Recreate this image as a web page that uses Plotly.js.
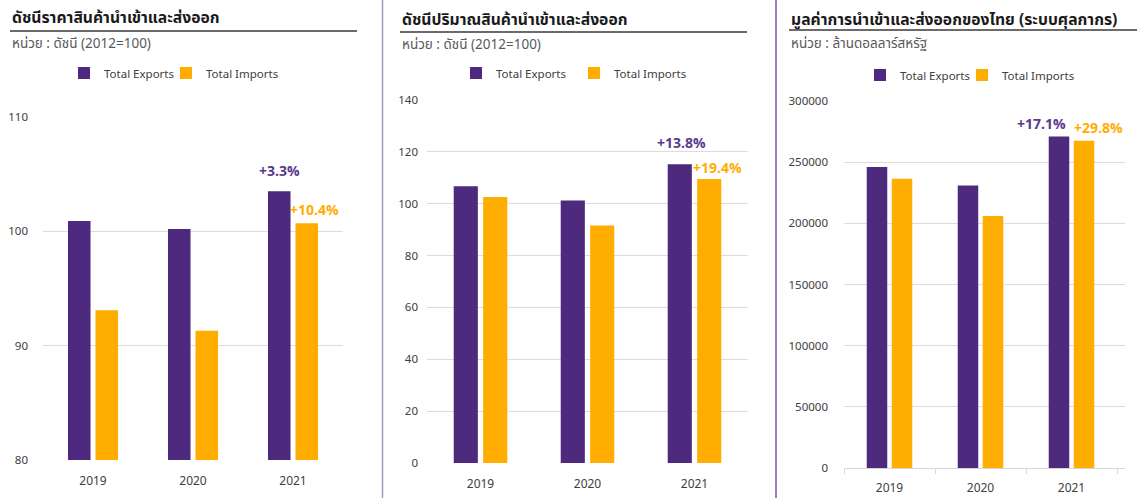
<!DOCTYPE html>
<html>
<head>
<meta charset="utf-8">
<script src="https://cdn.plot.ly/plotly-3.0.1.min.js"></script>
<style>html,body{margin:0;padding:0;background:#fff;}#chart{width:1137px;height:498px;}</style>
</head>
<body>
<div id="chart"></div>
<script>
// ---- data ----
const years = ['2019', '2020', '2021'];
const priceExports = [100.9, 100.2, 103.5];
const priceImports = [93.1, 91.3, 100.7];
const volumeExports = [106.7, 101.2, 115.2];
const volumeImports = [102.6, 91.6, 109.5];
const valueExports = [246000, 231000, 271000];
const valueImports = [236500, 206000, 267500];
const seriesNames = ['Total Exports', 'Total Imports'];
const panelTitles = ['ดัชนีราคาสินค้านำเข้าและส่งออก', 'ดัชนีปริมาณสินค้านำเข้าและส่งออก', 'มูลค่าการนำเข้าและส่งออกของไทย (ระบบศุลกากร)'];
const panelUnits = ['หน่วย : ดัชนี (2012=100)', 'หน่วย : ดัชนี (2012=100)', 'หน่วย : ล้านดอลลาร์สหรัฐ'];
const priceGrowth = ['+3.3%', '+10.4%'];
const volumeGrowth = ['+13.8%', '+19.4%'];
const valueGrowth = ['+17.1%', '+29.8%'];

// ---- style ----
const W = 1137, H = 498;
const PURPLE = '#4e2a7f', ORANGE = '#ffad00';
const FONT = "'Noto Sans Thai', 'Noto Sans', 'Open Sans', 'DejaVu Sans', sans-serif";
const px = x => x / W;
const py = y => 1 - y / H;
const lastIdx = years.length - 1; // category index of 2021 for annotations

const panels = [
  {exp: priceExports, imp: priceImports, growth: priceGrowth, xd: [43, 343], yd: [460, 117], range: [80, 110], dtick: 10,
   legX: [102, 204], legY: 73,
   tx: 10, ty: 18, ux: [10, 357], uy: 31, sy: 44, gx: [-14, 21], gy: [7, 0], ys: 14, xs: 12, boundary: false},
  {exp: volumeExports, imp: volumeImports, growth: volumeGrowth, xd: [427, 748], yd: [463, 100], range: [0, 140], dtick: 20,
   legX: [494, 612], legY: 73,
   tx: 400, ty: 20, ux: [400, 747], uy: 32, sy: 45, gx: [-13, 23], gy: [8, -2], ys: 8, xs: 12, boundary: false},
  {exp: valueExports, imp: valueImports, growth: valueGrowth, xd: [844, 1125], yd: [468, 101], range: [0, 300000], dtick: 50000,
   legX: [898, 1000], legY: 75,
   tx: 789, ty: 20, ux: [789, 1137], uy: 30, sy: 44, gx: [-30, 27], gy: [-1, 0], ys: 15, xs: 9, boundary: true}
];

const data = [];
const layout = {
  width: W, height: H,
  margin: {l: 0, r: 0, t: 0, b: 0},
  paper_bgcolor: '#ffffff', plot_bgcolor: '#ffffff',
  font: {family: FONT, color: '#595959', size: 12},
  barmode: 'group', bargap: 0.45, bargroupgap: 0.18,
  showlegend: true,
  annotations: [], shapes: []
};

let legCount = 0;
panels.forEach((p, i) => {
  const n = i === 0 ? '' : String(i + 1);
  const xa = 'x' + n, ya = 'y' + n;
  const series = [p.exp, p.imp];
  const colors = [PURPLE, ORANGE];
  series.forEach((vals, s) => {
    legCount += 1;
    const legName = legCount === 1 ? 'legend' : 'legend' + legCount;
    data.push({type: 'bar', x: years, y: vals, name: seriesNames[s], xaxis: xa, yaxis: ya, legend: legName,
      marker: {color: colors[s], line: {width: 0}}, hoverinfo: 'x+y'});
    layout[legName] = {
      orientation: 'h', x: px(p.legX[s] - 38), xanchor: 'left', y: py(p.legY), yanchor: 'middle',
      font: {size: 11.5, color: '#404040', family: FONT}, itemwidth: 30, bgcolor: 'rgba(0,0,0,0)'
    };
  });

  layout['xaxis' + n] = {
    domain: [px(p.xd[0]), px(p.xd[1])], anchor: ya, type: 'category',
    showgrid: false, zeroline: false, tickangle: 0,
    showline: p.boundary, linecolor: '#d9d9d9', linewidth: 1,
    ticks: p.boundary ? 'outside' : '', tickson: p.boundary ? 'boundaries' : 'labels', ticklen: 5, tickcolor: '#d9d9d9',
    tickfont: {size: 12, color: '#404040', family: FONT}, ticklabelstandoff: p.xs
  };
  layout['yaxis' + n] = {
    domain: [py(p.yd[0]), py(p.yd[1])], anchor: xa, range: p.range, dtick: p.dtick, tick0: 0,
    showgrid: true, gridcolor: '#dcdcdc', gridwidth: 1, zeroline: false, showline: false,
    tickformat: 'd', tickfont: {size: 11.5, color: '#404040', family: FONT}, ticklabelstandoff: p.ys
  };

  // title, underline and unit
  layout.annotations.push({xref: 'paper', yref: 'paper', x: px(p.tx), y: py(p.ty), xanchor: 'left', yanchor: 'middle',
    text: '<b>' + panelTitles[i] + '</b>', showarrow: false, font: {size: 15.7, color: '#1a1a1a', family: FONT}});
  layout.annotations.push({xref: 'paper', yref: 'paper', x: px(p.tx), y: py(p.sy), xanchor: 'left', yanchor: 'middle',
    text: panelUnits[i], showarrow: false, font: {size: 13.5, color: '#595959', family: FONT}});
  layout.shapes.push({type: 'line', xref: 'paper', yref: 'paper', x0: px(p.ux[0]), x1: px(p.ux[1]), y0: py(p.uy), y1: py(p.uy),
    line: {color: '#3a3a3a', width: 1.3}});

  // growth labels over 2021 (category axes take the category index)
  layout.annotations.push({xref: xa, yref: ya, x: lastIdx, y: p.exp[lastIdx], xanchor: 'center', yanchor: 'bottom',
    xshift: p.gx[0], yshift: p.gy[0], text: '<b>' + p.growth[0] + '</b>', showarrow: false,
    font: {size: 14, color: '#5a3a8e', family: FONT}});
  layout.annotations.push({xref: xa, yref: ya, x: lastIdx, y: p.imp[lastIdx], xanchor: 'center', yanchor: 'bottom',
    xshift: p.gx[1], yshift: p.gy[1], text: '<b>' + p.growth[1] + '</b>', showarrow: false,
    font: {size: 14, color: ORANGE, family: FONT}});
});

// panel separators
layout.shapes.push({type: 'line', xref: 'paper', yref: 'paper', x0: px(382.5), x1: px(382.5), y0: 0, y1: 1,
  line: {color: '#a898c8', width: 1.5}});
layout.shapes.push({type: 'line', xref: 'paper', yref: 'paper', x0: px(776), x1: px(776), y0: 0, y1: 1,
  line: {color: '#7a50b8', width: 1.5}});

Plotly.newPlot('chart', data, layout, {displayModeBar: false, staticPlot: true});
</script>
</body>
</html>
